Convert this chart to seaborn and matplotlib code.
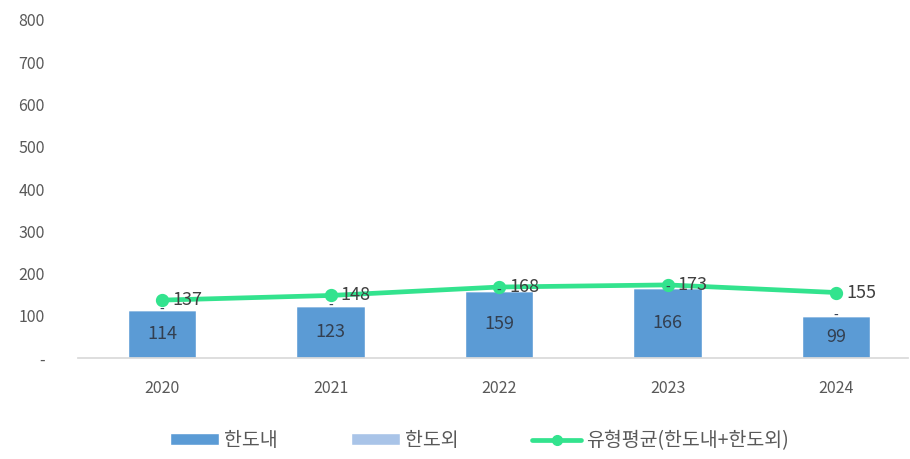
import matplotlib
matplotlib.use('Agg')
import matplotlib.pyplot as plt
import seaborn as sns
import pandas as pd
from matplotlib.patches import Patch
from matplotlib.lines import Line2D

sns.set_theme(style='white')
plt.rcParams['font.family'] = ['Noto Sans CJK KR', 'DejaVu Sans']

# 데이터
years = ['2020', '2021', '2022', '2023', '2024']
in_limit = [114, 123, 159, 166, 99]      # 한도내
out_limit = [0, 0, 0, 0, 0]              # 한도외
avg_total = [137, 148, 168, 173, 155]    # 유형평균(한도내+한도외)
y_ticks = [0, 100, 200, 300, 400, 500, 600, 700, 800]

df = pd.DataFrame({'year': years, 'in': in_limit, 'out': out_limit, 'avg': avg_total})

c_in = '#5B9BD5'
c_out = '#A9C4E8'
c_line = '#33E38E'
txt = '#595959'

fig = plt.figure(figsize=(9.1, 4.59), dpi=100)
ax = fig.add_axes([78 / 910, 101 / 459, 830 / 910, 338 / 459])

sns.barplot(data=df, x='year', y='in', color=c_in, width=0.405, saturation=1, ax=ax)
sns.barplot(data=df, x='year', y='out', color=c_out, width=0.405, saturation=1,
            bottom=df['in'], ax=ax)
sns.pointplot(data=df, x='year', y='avg', color=c_line, markers='o', markersize=7,
              linewidth=3.4, ax=ax)

# 라벨
for i, (v_in, v_out, v_avg) in enumerate(zip(in_limit, out_limit, avg_total)):
    ax.text(i, v_in / 2, str(v_in), ha='center', va='center', fontsize=13, color='#333F50')
    ax.text(i, v_in + v_out, '-' if v_out == 0 else str(v_out), ha='center', va='center',
            fontsize=10, color='#333F50')
    ax.text(i + 0.06, v_avg, str(v_avg), ha='left', va='center', fontsize=13, color='#404040')

ax.set_xlim(-0.4985, 4.427)
ax.set_ylim(0, 800)
ax.set_yticks(y_ticks)
ax.set_yticklabels(['-' if t == 0 else str(t) for t in y_ticks])
ax.set_xlabel('')
ax.set_ylabel('')
ax.tick_params(axis='both', colors=txt, labelsize=11.5, length=0)
ax.tick_params(axis='x', pad=16)
ax.tick_params(axis='y', pad=24)
for lbl in ax.get_yticklabels():
    lbl.set_horizontalalignment('right')
for s in ['top', 'right', 'left']:
    ax.spines[s].set_visible(False)
ax.spines['bottom'].set_color('#D9D9D9')
ax.grid(False)

handles = [
    Patch(facecolor=c_in, label='한도내'),
    Patch(facecolor=c_out, label='한도외'),
    Line2D([0], [0], color=c_line, lw=3.4, marker='o', markersize=7, label='유형평균(한도내+한도외)'),
]
fig.legend(handles=handles, loc='center', bbox_to_anchor=(0.527, 0.04), ncol=3, frameon=False,
           fontsize=14, handlelength=2.5, handleheight=0.6, columnspacing=3.8, handletextpad=0.25,
           labelcolor=txt)

fig.savefig('out.png', dpi=100)
